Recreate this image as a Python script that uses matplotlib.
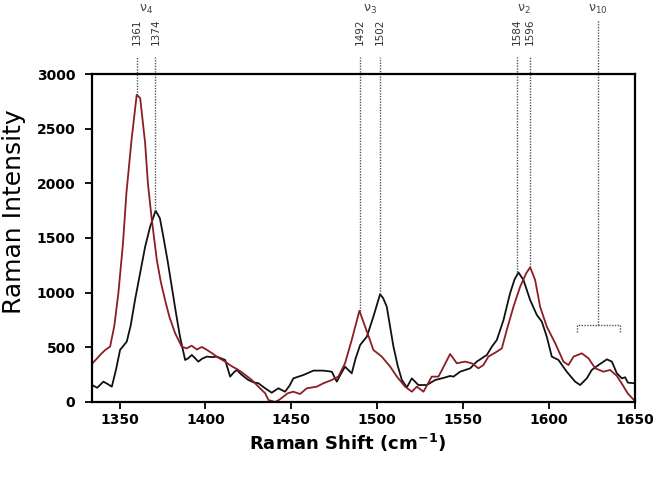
import numpy as np
import matplotlib.pyplot as plt

# black spectrum
shift_black = [1334, 1337, 1340.6, 1343, 1345.5, 1348, 1350.3, 1354.2, 1356.5, 1359, 1362, 1364.9,
               1367.8, 1371, 1373.5, 1375.5, 1378, 1380.4, 1383, 1385.2, 1388.2, 1390, 1392.1, 1394,
               1395.9, 1398, 1400.8, 1404, 1406.6, 1409, 1411.5, 1414.4, 1416.5, 1418.3, 1421, 1425,
               1428, 1430.9, 1434.8, 1438.6, 1442.5, 1446.4, 1449, 1451.2, 1457.1, 1462.9, 1468.7,
               1473.6, 1476.5, 1479, 1481.3, 1485.2, 1487.5, 1490.1, 1494, 1497.8, 1501.7, 1503.5,
               1505.6, 1509.5, 1512, 1514.4, 1517.3, 1520.2, 1524, 1528.9, 1533.8, 1538.6, 1542.5,
               1544.5, 1548.3, 1554.2, 1558, 1561, 1563.9, 1566.8, 1569.7, 1573.6, 1577.4, 1580,
               1582.3, 1585.2, 1589.1, 1593, 1595.9, 1598.8, 1601.7, 1605.6, 1610.4, 1615.3, 1618.2,
               1622.1, 1625, 1628.9, 1633.8, 1636.7, 1639.6, 1642.5, 1644.4, 1646, 1650]
int_black = [155, 130, 186, 165, 140, 300, 476, 552, 700, 933, 1180, 1420,
             1603, 1750, 1680, 1512, 1290, 1055, 800, 597, 384, 400, 430, 400,
             369, 395, 415, 410, 415, 400, 384, 232, 270, 293, 250, 201,
             180, 171, 125, 85, 125, 94, 150, 216, 247, 287, 287,
             277, 186, 260, 323, 262, 400, 521, 597, 780, 985, 950,
             872, 506, 330, 201, 134, 216, 155, 155, 201, 220, 238,
             232, 277, 308, 369, 400, 430, 506, 567, 750, 994, 1120,
             1185, 1116, 933, 796, 735, 597, 415, 384, 277, 186, 155,
             216, 293, 338, 390, 369, 262, 216, 226, 177, 171]

# red spectrum
shift_red = [1334, 1337, 1339.6, 1342, 1344.5, 1347, 1349.3, 1352, 1354, 1357, 1360, 1362, 1364.9,
             1366.5, 1368.8, 1371.7, 1374, 1376.5, 1379, 1382.3, 1386.2, 1389, 1392, 1395, 1397.9,
             1400.5, 1403.7, 1407, 1411.5, 1415, 1419.2, 1423, 1427, 1431.8, 1434.8, 1436.7, 1440.6,
             1443, 1445.4, 1448, 1451.2, 1455.1, 1459, 1464.9, 1468.7, 1473.6, 1477.4, 1481.3,
             1485.2, 1489.7, 1493, 1495.5, 1497.8, 1502.7, 1507.6, 1511.5, 1516.3, 1520.2, 1523.1,
             1527, 1531.8, 1535.7, 1538, 1542.5, 1546.4, 1551.2, 1555.1, 1559, 1561.9, 1564.8,
             1569.7, 1572.6, 1575.5, 1579.4, 1583.3, 1586.8, 1589.1, 1592, 1594.9, 1598.8, 1603.7,
             1608.5, 1611.4, 1614.4, 1619.2, 1623.1, 1627, 1631.8, 1635.7, 1639.6, 1643, 1645.9, 1650]
int_red = [350, 400, 445, 480, 506, 700, 994, 1450, 1911, 2400, 2810, 2780, 2368,
           2000, 1665, 1299, 1100, 933, 780, 631, 506, 490, 515, 480, 503,
           480, 448, 410, 369, 330, 293, 250, 201, 125, 80, 18, 0,
           20, 49, 80, 94, 73, 125, 140, 171, 201, 232, 354,
           567, 835, 689, 580, 476, 415, 323, 232, 140, 94, 140,
           94, 232, 232, 300, 439, 354, 369, 354, 308, 338, 415,
           460, 490, 659, 872, 1055, 1177, 1232, 1116, 872, 689, 537,
           369, 338, 415, 445, 399, 308, 277, 293, 238, 155, 79, 10]

# marked peaks: drawn position, label, height of the curve under it
peak_pos = [1360.2, 1370.9, 1490, 1501.5, 1581.5, 1589]
peak_labels = ['1361', '1374', '1492', '1502', '1584', '1596']
peak_height = [2810, 1750, 835, 985, 1185, 1232]

mode_labels = [r'ν$_4$', r'ν$_3$', r'ν$_2$', r'ν$_{10}$']
mode_pos = [1365.5, 1496, 1585.5, 1628.5]

nu10_pos = 1628.5
nu10_range = [1616.6, 1641.5]
nu10_level = 704

fig = plt.figure(figsize=(6.53, 4.79), dpi=100)
ax = fig.add_axes([0.141, 0.1608, 0.831, 0.6847])

ax.plot(shift_black, int_black, color='#111111', lw=1.3)
ax.plot(shift_red, int_red, color='#8b1e24', lw=1.3)

ax.set_xlim(1334, 1650)
ax.set_ylim(0, 3000)
ax.set_xticks(np.arange(1350, 1651, 50))
ax.set_yticks(np.arange(0, 3001, 500))
ax.tick_params(direction='out', length=5, width=1.3)
ax.tick_params(axis='x', pad=3)
ax.tick_params(axis='y', pad=7)
for lab in ax.get_xticklabels() + ax.get_yticklabels():
    lab.set_fontweight('bold')
    lab.set_fontsize(10)
for sp in ax.spines.values():
    sp.set_linewidth(1.6)

dot = dict(color='#555555', lw=1.0, linestyle=(0, (1, 1)), clip_on=False)
for xp, lab, h in zip(peak_pos, peak_labels, peak_height):
    ax.plot([xp, xp], [h, 3155], **dot)
    ax.text(xp, 3265, lab, rotation=90, ha='center', va='bottom',
            fontsize=7.5, color='#333333')

for xp, lab in zip(mode_pos, mode_labels):
    ax.text(xp, 3590, lab, ha='center', va='center', fontsize=9, color='#444444')

ax.plot([nu10_pos, nu10_pos], [nu10_level, 3494], **dot)
ax.plot([nu10_range[0], nu10_range[0], nu10_range[1], nu10_range[1]],
        [nu10_level - 60, nu10_level, nu10_level, nu10_level - 60], **dot)

fig.text(348 / 653, 1 - 443 / 479, r'Raman Shift (cm$^{\mathbf{-1}}$)',
         ha='center', va='center', fontsize=13, fontweight='bold')
fig.text(14 / 653, 1 - 212 / 479, 'Raman Intensity', rotation=90,
         ha='center', va='center', fontsize=18)

fig.savefig('out.png', dpi=100)
